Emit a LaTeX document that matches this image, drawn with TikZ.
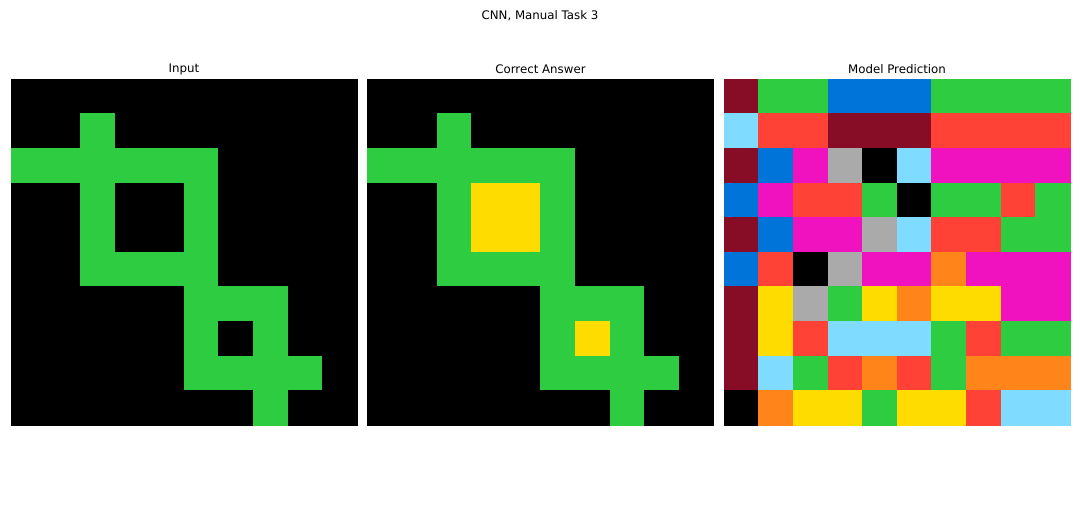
\documentclass[tikz,border=0pt]{standalone}
\usepackage{fontspec}
\setmainfont{DejaVu Sans}
\usepackage{xcolor}
\usepackage{tikz}
\usetikzlibrary{positioning}

\definecolor{c0}{HTML}{000000}
\definecolor{c1}{HTML}{0074D9}
\definecolor{c2}{HTML}{FF4136}
\definecolor{c3}{HTML}{2ECC40}
\definecolor{c4}{HTML}{FFDC00}
\definecolor{c5}{HTML}{AAAAAA}
\definecolor{c6}{HTML}{F012BE}
\definecolor{c7}{HTML}{FF851B}
\definecolor{c8}{HTML}{7FDBFF}
\definecolor{c9}{HTML}{870C25}

\begin{document}
\begin{tikzpicture}[
    x=1pt, y=-1pt,
    title/.style={inner sep=0pt, font=\fontsize{11.8}{14}\selectfont},
    cell/.style={line width=0.3pt}
]
\useasboundingbox (0,0) rectangle (1080,504);

\node[title] (main) at (540,16) {CNN, Manual Task 3};
\node[title] (input) at (184,69) {Input};
\node[title] (answer) at (540.5,69) {Correct Answer};
\node[title] (pred) at (897,69) {Model Prediction};

% input grid
\foreach \row [count=\r from 0] in {
    {0,0,0,0,0,0,0,0,0,0},
    {0,0,3,0,0,0,0,0,0,0},
    {3,3,3,3,3,3,0,0,0,0},
    {0,0,3,0,0,3,0,0,0,0},
    {0,0,3,0,0,3,0,0,0,0},
    {0,0,3,3,3,3,0,0,0,0},
    {0,0,0,0,0,3,3,3,0,0},
    {0,0,0,0,0,3,0,3,0,0},
    {0,0,0,0,0,3,3,3,3,0},
    {0,0,0,0,0,0,0,3,0,0}} {
  \foreach \v [count=\c from 0] in \row {
    \filldraw[cell, c\v] ({11+\c*34.6},{79+\r*34.6}) rectangle +(34.6,34.6);
  }
}

% correct answer grid
\foreach \row [count=\r from 0] in {
    {0,0,0,0,0,0,0,0,0,0},
    {0,0,3,0,0,0,0,0,0,0},
    {3,3,3,3,3,3,0,0,0,0},
    {0,0,3,4,4,3,0,0,0,0},
    {0,0,3,4,4,3,0,0,0,0},
    {0,0,3,3,3,3,0,0,0,0},
    {0,0,0,0,0,3,3,3,0,0},
    {0,0,0,0,0,3,4,3,0,0},
    {0,0,0,0,0,3,3,3,3,0},
    {0,0,0,0,0,0,0,3,0,0}} {
  \foreach \v [count=\c from 0] in \row {
    \filldraw[cell, c\v] ({367.5+\c*34.6},{79+\r*34.6}) rectangle +(34.6,34.6);
  }
}

% model prediction grid
\foreach \row [count=\r from 0] in {
    {9,3,3,1,1,1,3,3,3,3},
    {8,2,2,9,9,9,2,2,2,2},
    {9,1,6,5,0,8,6,6,6,6},
    {1,6,2,2,3,0,3,3,2,3},
    {9,1,6,6,5,8,2,2,3,3},
    {1,2,0,5,6,6,7,6,6,6},
    {9,4,5,3,4,7,4,4,6,6},
    {9,4,2,8,8,8,3,2,3,3},
    {9,8,3,2,7,2,3,7,7,7},
    {0,7,4,4,3,4,4,2,8,8}} {
  \foreach \v [count=\c from 0] in \row {
    \filldraw[cell, c\v] ({724+\c*34.6},{79+\r*34.6}) rectangle +(34.6,34.6);
  }
}
\end{tikzpicture}
\end{document}
